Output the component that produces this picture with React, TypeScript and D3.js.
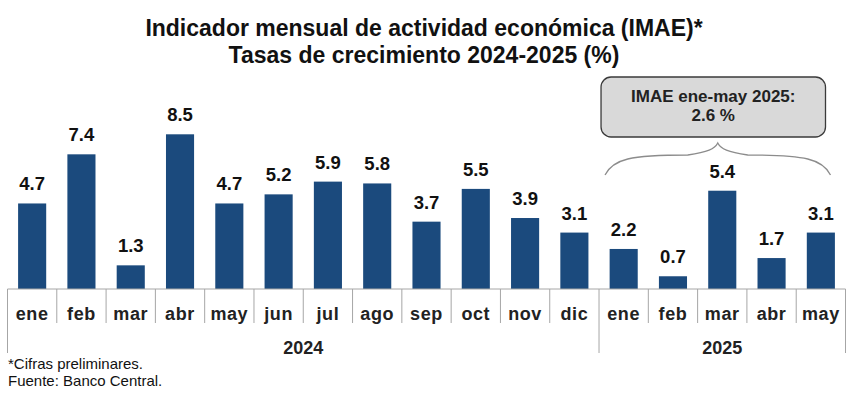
import * as d3 from 'd3';

const months = ['ene', 'feb', 'mar', 'abr', 'may', 'jun', 'jul', 'ago', 'sep', 'oct', 'nov', 'dic', 'ene', 'feb', 'mar', 'abr', 'may'];
const values = [4.7, 7.4, 1.3, 8.5, 4.7, 5.2, 5.9, 5.8, 3.7, 5.5, 3.9, 3.1, 2.2, 0.7, 5.4, 1.7, 3.1];
const years = ['2024', '2025'];
const yearCounts = [12, 5];
const titleLines = ['Indicador mensual de actividad económica (IMAE)*', 'Tasas de crecimiento 2024-2025 (%)'];
const calloutLines = ['IMAE ene-may 2025:', '2.6 %'];
const notes = ['*Cifras preliminares.', 'Fuente: Banco Central.'];

const W = 848;
const H = 399;
const FONT = 'Liberation Sans, Arial, sans-serif';
const BAR = '#1b4a7d';
const GRID = '#a6a6a6';

export default function App() {
  const x = d3
    .scaleBand<number>()
    .domain(d3.range(months.length))
    .range([7.5, 845.5])
    .padding(0);
  const y = d3.scaleLinear().domain([0, 10]).range([289, 107]);
  const barW = x.bandwidth() * 0.57;
  const baseY = y(0);

  // year group boundaries
  const starts = yearCounts.map((_, i) => d3.sum(yearCounts.slice(0, i)));
  const edges = [...starts, months.length];
  const shortTicks = d3.range(1, months.length).filter((i) => !edges.includes(i));

  // callout over the 2025 bars
  const g0 = starts[1];
  const g1 = months.length;
  const bx0 = x(g0)! + 2;
  const bx1 = x(g1 - 1)! + x.bandwidth() - 20;
  const bcx = (bx0 + bx1) / 2;
  const braceL = x(g0)! + 6;
  const braceR = x(g1 - 1)! + x.bandwidth() - 15;
  const braceMid = (braceL + braceR) / 2;
  const bTop = 143;
  const bBot = 175;
  const brace = d3.path();
  brace.moveTo(braceL, bBot);
  brace.bezierCurveTo(braceL + 8, bBot - 16, braceL + 25, bBot - 20, braceMid - 30, bTop + 12);
  brace.bezierCurveTo(braceMid - 10, bTop + 9, braceMid - 3, bTop + 6, braceMid, bTop);
  brace.bezierCurveTo(braceMid + 3, bTop + 6, braceMid + 10, bTop + 9, braceMid + 30, bTop + 12);
  brace.bezierCurveTo(braceR - 25, bBot - 20, braceR - 8, bBot - 16, braceR, bBot);

  return (
    <svg width={W} height={H} style={{ position: 'absolute', left: 0, top: 0, background: '#fff' }}>
      {titleLines.map((t, i) => (
        <text
          key={t}
          x={W / 2}
          y={36 + i * 27}
          textAnchor="middle"
          fontFamily={FONT}
          fontWeight="bold"
          fontSize={23}
          fill="#111"
        >
          {t}
        </text>
      ))}

      {/* bars */}
      {values.map((v, i) => {
        const cx = x(i)! + x.bandwidth() / 2;
        return (
          <g key={i}>
            <rect x={cx - barW / 2} y={y(v)} width={barW} height={baseY - y(v)} fill={BAR} />
            <text
              x={cx}
              y={y(v) - 13}
              textAnchor="middle"
              fontFamily={FONT}
              fontWeight="bold"
              fontSize={18.5}
              fill="#111"
            >
              {v.toFixed(1)}
            </text>
            <text
              x={cx}
              y={320}
              textAnchor="middle"
              fontFamily={FONT}
              fontWeight="bold"
              fontSize={18}
              letterSpacing={0.6}
              fill="#222"
            >
              {months[i]}
            </text>
          </g>
        );
      })}

      {/* axis */}
      <line x1={x.range()[0]} x2={x.range()[1]} y1={baseY} y2={baseY} stroke={GRID} strokeWidth={1} />
      {shortTicks.map((i) => (
        <line key={i} x1={x(i)} x2={x(i)} y1={baseY} y2={323} stroke={GRID} strokeWidth={1} />
      ))}
      {edges.map((i) => {
        const px = i === months.length ? x.range()[1] : x(i)!;
        return <line key={`e${i}`} x1={px} x2={px} y1={baseY} y2={353} stroke={GRID} strokeWidth={1} />;
      })}
      {years.map((yr, k) => {
        const a = x(edges[k])!;
        const b = edges[k + 1] === months.length ? x.range()[1] : x(edges[k + 1])!;
        return (
          <text
            key={yr}
            x={(a + b) / 2}
            y={354}
            textAnchor="middle"
            fontFamily={FONT}
            fontWeight="bold"
            fontSize={18}
            fill="#222"
          >
            {yr}
          </text>
        );
      })}

      {/* callout */}
      <rect x={bx0} y={77} width={bx1 - bx0} height={60} rx={10} fill="#d9d9d9" stroke="#3a3a3a" strokeWidth={1.3} />
      {calloutLines.map((t, i) => (
        <text
          key={t}
          x={bcx}
          y={102 + i * 19}
          textAnchor="middle"
          fontFamily={FONT}
          fontWeight="bold"
          fontSize={17}
          fill="#222"
        >
          {t}
        </text>
      ))}
      <path d={brace.toString()} fill="none" stroke="#8c8c8c" strokeWidth={1.3} />

      {notes.map((t, i) => (
        <text key={t} x={8} y={369 + i * 17} fontFamily={FONT} fontSize={15} fill="#111">
          {t}
        </text>
      ))}
    </svg>
  );
}
